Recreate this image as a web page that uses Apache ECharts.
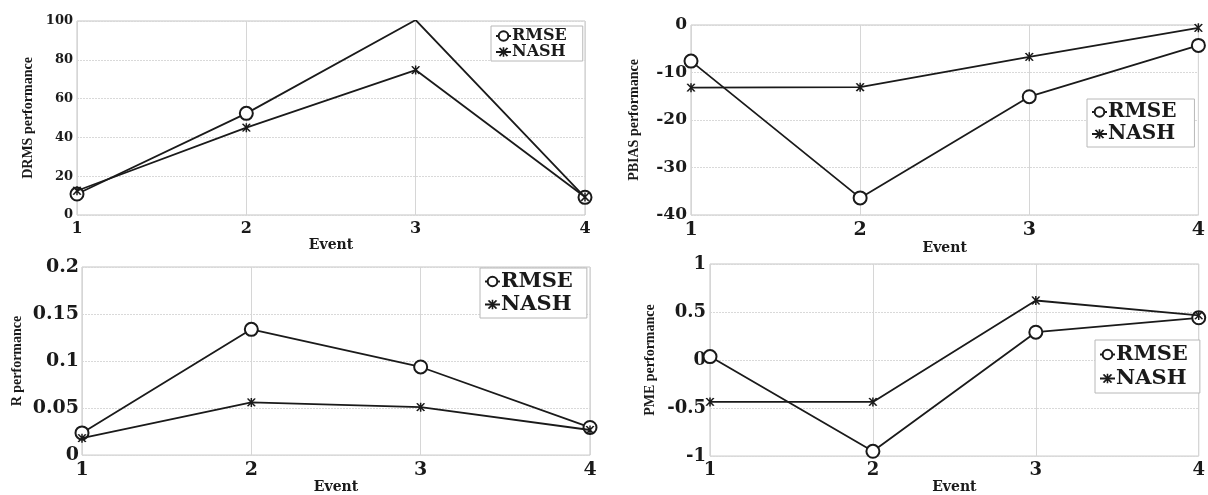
<!DOCTYPE html>
<html>
<head>
<meta charset="utf-8">
<script src="https://cdn.jsdelivr.net/npm/echarts@6/dist/echarts.min.js"></script>
<style>
html,body{margin:0;padding:0;background:#fff;}
#c{width:1208px;height:495px;}
</style>
</head>
<body>
<div id="c"></div>
<script>
// ---- data ----
var events = ['1', '2', '3', '4'];
var seriesNames = ['RMSE', 'NASH'];

var drmsRmse = [10.8, 52.4, 100.5, 9.1];
var drmsNash = [12.5, 45.0, 74.7, 9.3];
var pbiasRmse = [-7.6, -36.4, -15.1, -4.3];
var pbiasNash = [-13.2, -13.1, -6.7, -0.6];
var rRmse = [0.0236, 0.1337, 0.0937, 0.0294];
var rNash = [0.018, 0.056, 0.051, 0.0267];
var pmeRmse = [0.036, -0.95, 0.29, 0.44];
var pmeNash = [-0.436, -0.436, 0.62, 0.465];

var yTitles = ['DRMS performance', 'PBIAS performance', 'R performance', 'PME performance'];
var xTitle = 'Event';

// ---- styling ----
var lineColor = '#1a1a1a';
var serifH = '"DejaVu Serif", "Liberation Serif", serif';
var serifV = '"Liberation Serif", "Times New Roman", serif';
var starPath = 'path://M9,0 L11,0 L11,20 L9,20 Z M3.96,1.94 L6.04,0.74 L16.04,18.06 L13.96,19.26 Z M13.96,0.74 L16.04,1.94 L6.04,19.26 L3.96,18.06 Z';

var panels = [
  {grid: {left: 77, top: 21, width: 508, height: 194}, y: {min: 0, max: 100, interval: 20}, yFont: 13, xFont: 16, yGap: 42, xGap: 20, yMargin: 4, xMargin: 6,
   legend: {left: 491, top: 26, font: 16, gap: 0, pad: [2, 16, 1, 4]}, data: [drmsRmse, drmsNash]},
  {grid: {left: 691, top: 25, width: 509, height: 190}, y: {min: -40, max: 0, interval: 10}, yFont: 17, xFont: 19, yGap: 50, xGap: 21, yMargin: 4, xMargin: 6,
   legend: {left: 1087, top: 99, font: 20, gap: 2, pad: [3, 18, 3, 4]}, data: [pbiasRmse, pbiasNash]},
  {grid: {left: 82, top: 267, width: 508, height: 195}, y: {min: 0, max: 0.2, interval: 0.05}, yFont: 19, xFont: 19, yGap: 58, xGap: 22, yMargin: 3, xMargin: 5,
   legend: {left: 480, top: 268, font: 21, gap: 2, pad: [3, 14, 3, 4]}, data: [rRmse, rNash]},
  {grid: {left: 710, top: 264, width: 498, height: 205}, y: {min: -1, max: 1, interval: 0.5}, yFont: 18, xFont: 18, yGap: 53, xGap: 15, yMargin: 4, xMargin: 5,
   legend: {left: 1095, top: 340, font: 21, gap: 3, pad: [4, 12, 4, 4]}, data: [pmeRmse, pmeNash]}
];

var grids = [], xAxes = [], yAxes = [], series = [], legends = [];
panels.forEach(function (p, i) {
  grids.push({left: p.grid.left, top: p.grid.top, width: p.grid.width, height: p.grid.height,
    show: true, borderColor: '#c4c4c4', borderWidth: 1, backgroundColor: '#fff', containLabel: false});
  xAxes.push({type: 'category', gridIndex: i, data: events, boundaryGap: false,
    axisLine: {show: false}, axisTick: {show: false},
    axisLabel: {fontFamily: serifH, fontWeight: 'bold', fontSize: p.xFont, color: '#1a1a1a', margin: p.xMargin},
    splitLine: {show: true, lineStyle: {color: '#d6d6d6', width: 1}},
    name: xTitle, nameLocation: 'middle', nameGap: p.xGap,
    nameTextStyle: {fontFamily: serifH, fontWeight: 'bold', fontSize: 14, color: '#1a1a1a'}});
  yAxes.push({type: 'value', gridIndex: i, min: p.y.min, max: p.y.max, interval: p.y.interval,
    axisLine: {show: false}, axisTick: {show: false},
    axisLabel: {fontFamily: serifH, fontWeight: 'bold', fontSize: p.yFont, color: '#1a1a1a', margin: p.yMargin},
    splitLine: {show: true, lineStyle: {color: '#d9d9d9', width: 1, type: [2, 1]}},
    name: yTitles[i], nameLocation: 'middle', nameGap: p.yGap, nameRotate: 90,
    nameTextStyle: {fontFamily: serifV, fontWeight: 'bold', fontSize: 14, color: '#1a1a1a'}});
  series.push({name: seriesNames[0], type: 'line', xAxisIndex: i, yAxisIndex: i, data: p.data[0],
    symbol: 'emptyCircle', symbolSize: 13, showAllSymbol: true, clip: true,
    lineStyle: {color: lineColor, width: 1.8}, itemStyle: {color: lineColor, borderColor: lineColor, borderWidth: 1.6},
    emphasis: {disabled: true}, animation: false, z: 3});
  series.push({name: seriesNames[1], type: 'line', xAxisIndex: i, yAxisIndex: i, data: p.data[1],
    symbol: starPath, symbolSize: 9, showAllSymbol: true, clip: true,
    lineStyle: {color: lineColor, width: 1.8}, itemStyle: {color: lineColor, borderWidth: 0},
    emphasis: {disabled: true}, animation: false, z: 4});
  legends.push({left: p.legend.left, top: p.legend.top, orient: 'vertical', data: seriesNames,
    backgroundColor: '#fff', borderColor: '#b8b8b8', borderWidth: 1, padding: p.legend.pad, itemGap: p.legend.gap,
    itemWidth: 15, itemHeight: 12, selectedMode: false,
    textStyle: {fontFamily: serifH, fontWeight: 'bold', fontSize: p.legend.font, color: '#1a1a1a', padding: [0, 0, 0, -4]}});
});

var chart = echarts.init(document.getElementById('c'), null, {renderer: 'canvas'});
chart.setOption({
  backgroundColor: '#ffffff',
  animation: false,
  grid: grids, xAxis: xAxes, yAxis: yAxes, series: series, legend: legends
});
</script>
</body>
</html>
